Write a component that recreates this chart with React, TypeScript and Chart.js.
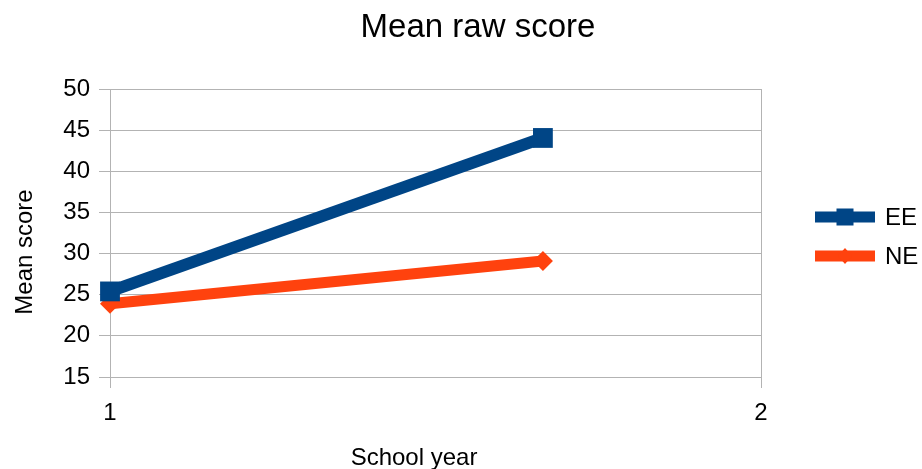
import React, { useEffect, useRef } from 'react';
import { Chart, registerables } from 'chart.js';

Chart.register(...registerables);

const FONT = '"Liberation Sans", Arial, sans-serif';

const TITLE = 'Mean raw score';
const X_TITLE = 'School year';
const Y_TITLE = 'Mean score';

const SERIES_NAMES = ['EE', 'NE'];
const SERIES_COLORS = ['#004586', '#ff420e'];
const X_POSITIONS = [1, 1.665];
const EE_VALUES = [25.4, 44.05];
const NE_VALUES = [23.9, 29.1];

const Y_MIN = 15;
const Y_MAX = 50;
const Y_STEP = 5;
const X_TICKS = [1, 2];

const GRID = '#b3b3b3';

const overlayPlugin = {
  id: 'overlay',
  afterDraw(chart: any) {
    const { ctx, chartArea } = chart;
    ctx.save();
    ctx.fillStyle = '#000';

    // Title
    ctx.font = `33px ${FONT}`;
    ctx.textAlign = 'center';
    ctx.textBaseline = 'alphabetic';
    ctx.fillText(TITLE, 478, 37);

    // X axis title
    ctx.font = `24px ${FONT}`;
    ctx.fillText(X_TITLE, 414, 465);

    // Y axis title
    ctx.save();
    ctx.translate(32, 252);
    ctx.rotate(-Math.PI / 2);
    ctx.fillText(Y_TITLE, 0, 0);
    ctx.restore();

    // Legend
    const legendX = chartArea.right + 54;
    const rows = [217, 256];
    chart.data.datasets.forEach((ds: any, i: number) => {
      const y = rows[i];
      ctx.strokeStyle = ds.borderColor;
      ctx.lineWidth = 11;
      ctx.beginPath();
      ctx.moveTo(legendX, y);
      ctx.lineTo(legendX + 60, y);
      ctx.stroke();
      ctx.fillStyle = ds.borderColor;
      const cx = legendX + 30;
      if (ds.pointStyle === 'rect') {
        ctx.fillRect(cx - 8.5, y - 8.5, 17, 17);
      } else {
        ctx.beginPath();
        ctx.moveTo(cx, y - 8);
        ctx.lineTo(cx + 7, y);
        ctx.lineTo(cx, y + 8);
        ctx.lineTo(cx - 7, y);
        ctx.closePath();
        ctx.fill();
      }
      ctx.fillStyle = '#000';
      ctx.font = `24px ${FONT}`;
      ctx.textAlign = 'left';
      ctx.textBaseline = 'middle';
      ctx.fillText(ds.label, legendX + 70, y + 1);
    });
    ctx.restore();
  },
};

export default function App() {
  const ref = useRef<HTMLCanvasElement | null>(null);

  useEffect(() => {
    if (!ref.current) return;
    const toPoints = (vals: number[]) => vals.map((v, i) => ({ x: X_POSITIONS[i], y: v }));
    const chart = new Chart(ref.current, {
      type: 'line',
      data: {
        datasets: [
          {
            label: SERIES_NAMES[0],
            data: toPoints(EE_VALUES),
            borderColor: SERIES_COLORS[0],
            backgroundColor: SERIES_COLORS[0],
            borderWidth: 12,
            pointStyle: 'rect',
            pointRadius: 14,
            pointBorderWidth: 0,
            tension: 0,
            clip: false,
          },
          {
            label: SERIES_NAMES[1],
            data: toPoints(NE_VALUES),
            borderColor: SERIES_COLORS[1],
            backgroundColor: SERIES_COLORS[1],
            borderWidth: 11,
            pointStyle: 'rectRot',
            pointRadius: 10,
            pointBorderWidth: 0,
            tension: 0,
            clip: false,
          },
        ],
      },
      options: {
        responsive: false,
        animation: false,
        layout: { padding: { top: 89, right: 161, left: 0, bottom: 0 } },
        font: { family: FONT },
        plugins: {
          legend: { display: false },
          title: { display: false },
          tooltip: { enabled: false },
        },
        scales: {
          x: {
            type: 'linear',
            min: X_TICKS[0],
            max: X_TICKS[X_TICKS.length - 1],
            afterBuildTicks: (s: any) => {
              s.ticks = X_TICKS.map((v) => ({ value: v }));
            },
            afterFit: (s: any) => {
              s.height = 92;
            },
            grid: { color: GRID, lineWidth: 1, tickLength: 11, tickColor: GRID },
            border: { color: GRID },
            ticks: {
              color: '#000',
              font: { family: FONT, size: 24 },
              padding: 11,
              maxRotation: 0,
            },
          },
          y: {
            type: 'linear',
            min: Y_MIN,
            max: Y_MAX,
            ticks: {
              stepSize: Y_STEP,
              color: '#000',
              font: { family: FONT, size: 24 },
              padding: 9,
            },
            afterFit: (s: any) => {
              s.width = 110;
            },
            grid: { color: GRID, lineWidth: 1, tickLength: 11, tickColor: GRID },
            border: { color: GRID },
          },
        },
      },
      plugins: [overlayPlugin],
    });
    return () => chart.destroy();
  }, []);

  return (
    <div style={{ position: 'fixed', left: 0, top: 0, width: 922, height: 469, background: '#fff' }}>
      <canvas ref={ref} width={922} height={469} style={{ display: 'block' }} />
    </div>
  );
}
